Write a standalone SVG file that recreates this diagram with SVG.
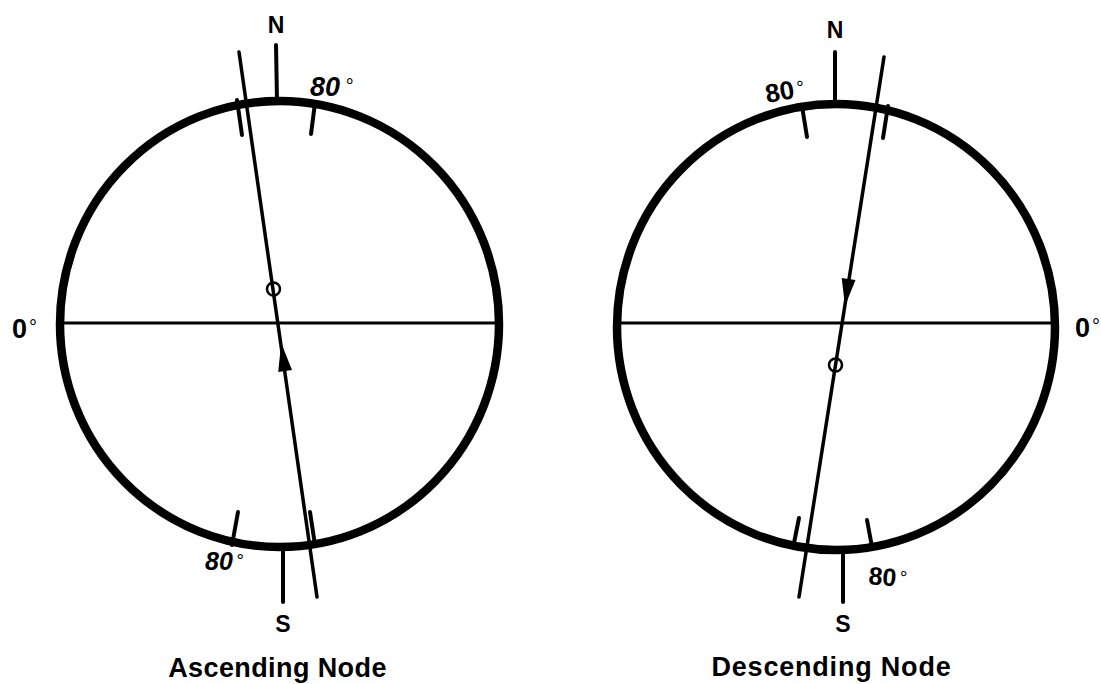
<svg xmlns="http://www.w3.org/2000/svg" width="1101" height="684" viewBox="0 0 1101 684">
<style>
.ring{fill:none;stroke:#000;stroke-width:8.5}
.ln{stroke:#000;stroke-width:3.5;stroke-linecap:round;fill:none}
.hz{stroke:#000;stroke-width:3;fill:none}
.tk{stroke:#000;stroke-width:4;stroke-linecap:round;fill:none}
.sc{fill:none;stroke:#000;stroke-width:2.5}
.t{font-family:"Liberation Sans",Arial,sans-serif;font-weight:bold;fill:#000}
.deg{font-family:"Liberation Sans",Arial,sans-serif;font-weight:bold;fill:#000}
</style>
<rect width="1101" height="684" fill="#fff"/>
<g id="ascending">
  <ellipse class="ring" cx="279.5" cy="324" rx="219.5" ry="223"/>
  <line class="hz" x1="60" y1="323" x2="499" y2="323"/>
  <line class="tk" x1="276" y1="45" x2="277" y2="101"/>
  <line class="tk" x1="283" y1="547" x2="283" y2="602"/>
  <line class="ln" x1="239" y1="52" x2="317" y2="597"/>
  <line class="tk" x1="237" y1="100" x2="242" y2="135"/>
  <line class="tk" x1="315" y1="103" x2="311" y2="134"/>
  <line class="tk" x1="238" y1="512" x2="232" y2="545"/>
  <line class="tk" x1="310" y1="512" x2="315" y2="545"/>
  <circle class="sc" cx="273.5" cy="289" r="6.5"/>
  <polygon points="281.2,343 292,370 278.2,372" fill="#000"/>
  <text class="t" x="276" y="33" font-size="23" text-anchor="middle">N</text>
  <text class="t" x="283" y="632" font-size="23" text-anchor="middle">S</text>
  <text class="deg" x="12" y="338" font-size="27">0<tspan font-size="20" font-weight="normal" dy="-4" dx="2">°</tspan></text>
  <text class="deg" x="310" y="96" font-size="27" font-style="italic">80<tspan font-size="20" font-weight="normal" dx="5" dy="-3">°</tspan></text>
  <text class="deg" x="205" y="570" font-size="25" font-style="italic">80<tspan font-size="19" font-weight="normal" dx="3" dy="-3">°</tspan></text>
  <text class="t" x="277.5" y="677" font-size="27" text-anchor="middle" letter-spacing="0.4">Ascending Node</text>
</g>
<g id="descending">
  <ellipse class="ring" cx="836" cy="327" rx="219" ry="223"/>
  <line class="hz" x1="617" y1="323" x2="1055" y2="323"/>
  <line class="tk" x1="835" y1="52" x2="835" y2="104"/>
  <line class="tk" x1="843" y1="551" x2="843" y2="602"/>
  <line class="ln" x1="884" y1="57" x2="799" y2="597"/>
  <line class="tk" x1="888" y1="106" x2="883" y2="138"/>
  <line class="tk" x1="802" y1="106" x2="807" y2="137"/>
  <line class="tk" x1="799" y1="518" x2="793" y2="548"/>
  <line class="tk" x1="867" y1="520" x2="872" y2="547"/>
  <circle class="sc" cx="835.5" cy="365" r="6.5"/>
  <polygon points="845,306 855.5,280 841.7,278" fill="#000"/>
  <text class="t" x="835" y="38" font-size="23" text-anchor="middle">N</text>
  <text class="t" x="843" y="632" font-size="23" text-anchor="middle">S</text>
  <text class="deg" x="1075" y="337" font-size="27">0<tspan font-size="20" font-weight="normal" dy="-4" dx="2">°</tspan></text>
  <text class="deg" x="767" y="103" font-size="26" transform="rotate(-10 767 103)">80<tspan font-size="19" font-weight="normal" dx="3" dy="-3">°</tspan></text>
  <text class="deg" x="868" y="584" font-size="25" transform="rotate(5 868 584)">80<tspan font-size="19" font-weight="normal" dx="3" dy="-3">°</tspan></text>
  <text class="t" x="831.5" y="676" font-size="27" text-anchor="middle" letter-spacing="0.8">Descending Node</text>
</g>
</svg>
